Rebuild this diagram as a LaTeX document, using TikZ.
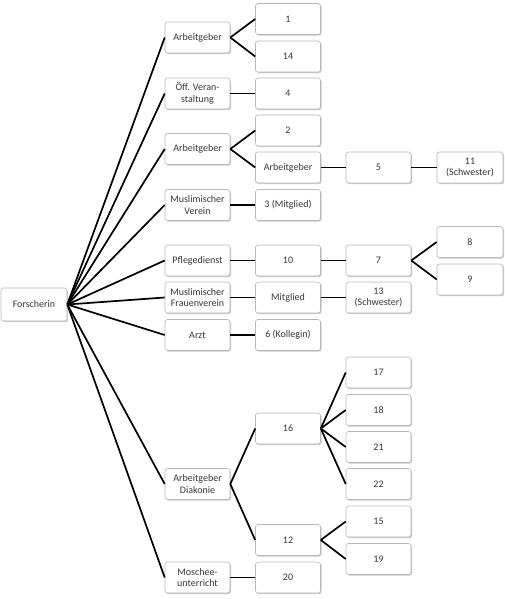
\documentclass[tikz,border=0pt]{standalone}
\usepackage{fontspec}
\setmainfont{Carlito}
\usetikzlibrary{shadows}
\begin{document}
\begin{tikzpicture}[x=1pt,y=-1pt,
  box/.style={draw=black!28, line width=0.6pt, fill=white, rounded corners=2.5pt,
    minimum width=65pt, minimum height=31pt, inner sep=1pt, align=center,
    text=black!78, font=\fontsize{10}{11.5}\selectfont,
    drop shadow={shadow xshift=1pt, shadow yshift=-1.2pt, opacity=0.35, fill=black!60}},
  link/.style={line width=1.7pt, black}]
\useasboundingbox (0,0) rectangle (505,599);
% level 1
\node[box, minimum width=66pt, minimum height=33pt] (F) at (34,304.5) {Forscherin};
% level 2
\node[box] (a1) at (197.5,37.5) {Arbeitgeber};
\node[box] (a2) at (197.5,93.5) {Öff. Veran-\\staltung};
\node[box] (a3) at (197.5,149) {Arbeitgeber};
\node[box] (a4) at (197.5,205) {Muslimischer\\Verein};
\node[box] (a5) at (197.5,260.5) {Pflegedienst};
\node[box] (a6) at (197.5,297.5) {Muslimischer\\Frauenverein};
\node[box] (a7) at (197.5,335) {Arzt};
\node[box] (a8) at (197.5,484) {Arbeitgeber\\Diakonie};
\node[box] (a9) at (197.5,577.5) {Moschee-\\unterricht};
% level 3
\node[box] (b1) at (288,19) {1};
\node[box] (b2) at (288,56.5) {14};
\node[box] (b3) at (288,93.5) {4};
\node[box] (b4) at (288,130.5) {2};
\node[box] (b5) at (288,167.5) {Arbeitgeber};
\node[box] (b6) at (288,205) {3 (Mitglied)};
\node[box] (b7) at (288,260.5) {10};
\node[box] (b8) at (288,297.5) {Mitglied};
\node[box] (b9) at (288,335) {6 (Kollegin)};
\node[box] (b10) at (288,428.5) {16};
\node[box] (b11) at (288,540) {12};
\node[box] (b12) at (288,577.5) {20};
% level 4
\node[box] (c1) at (378.5,167.5) {5};
\node[box] (c2) at (378.5,260.5) {7};
\node[box] (c3) at (378.5,297.5) {13\\(Schwester)};
\node[box] (c4) at (378.5,372.5) {17};
\node[box] (c5) at (378.5,410) {18};
\node[box] (c6) at (378.5,447) {21};
\node[box] (c7) at (378.5,484) {22};
\node[box] (c8) at (378.5,521.5) {15};
\node[box] (c9) at (378.5,559) {19};
% level 5
\node[box, minimum width=66pt] (d1) at (470,167.5) {11\\(Schwester)};
\node[box, minimum width=66pt] (d2) at (470,242) {8};
\node[box, minimum width=66pt] (d3) at (470,279.5) {9};
% connectors
\foreach \t in {a1,a2,a3,a4,a5,a6,a7,a8,a9}
  \draw[link] (F.east) -- (\t.west);
\draw[link] (a1.east) -- (b1.west);
\draw[link] (a1.east) -- (b2.west);
\draw[link] (a2.east) -- (b3.west);
\draw[link] (a3.east) -- (b4.west);
\draw[link] (a3.east) -- (b5.west);
\draw[link] (a4.east) -- (b6.west);
\draw[link] (a5.east) -- (b7.west);
\draw[link] (a6.east) -- (b8.west);
\draw[link] (a7.east) -- (b9.west);
\draw[link] (a8.east) -- (b10.west);
\draw[link] (a8.east) -- (b11.west);
\draw[link] (a9.east) -- (b12.west);
\draw[link] (b5.east) -- (c1.west);
\draw[link] (b7.east) -- (c2.west);
\draw[link] (b8.east) -- (c3.west);
\foreach \t in {c4,c5,c6,c7}
  \draw[link] (b10.east) -- (\t.west);
\draw[link] (b11.east) -- (c8.west);
\draw[link] (b11.east) -- (c9.west);
\draw[link] (c1.east) -- (d1.west);
\draw[link] (c2.east) -- (d2.west);
\draw[link] (c2.east) -- (d3.west);
\end{tikzpicture}
\end{document}
